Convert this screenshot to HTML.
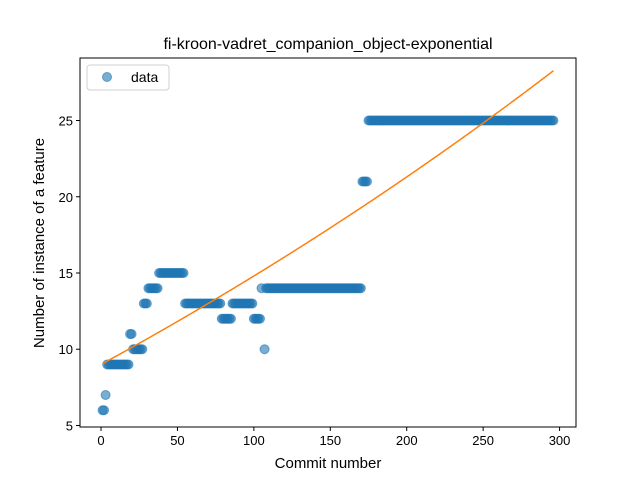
<!DOCTYPE html>
<html><head><meta charset="utf-8"><style>
body{margin:0;background:#fff;}
svg text{font-family:"Liberation Sans","DejaVu Sans",sans-serif;fill:#000;}
</style></head><body>
<svg id="chart" width="640" height="480" xmlns="http://www.w3.org/2000/svg">
<rect width="640" height="480" fill="#fff"/>
<text x="328" y="49" text-anchor="middle" font-size="16">fi-kroon-vadret_companion_object-exponential</text>
<g id="marks"></g>
<g id="axes"></g>
<text x="328" y="468" text-anchor="middle" font-size="15">Commit number</text>
<text transform="translate(44,243) rotate(-90)" text-anchor="middle" font-size="15">Number of instance of a feature</text>
<g>
<rect x="87" y="65" width="82" height="25" rx="3" fill="#fff" stroke="#ccc" opacity="0.9"/>
<circle cx="107" cy="77" r="4.5" fill="#1f77b4" fill-opacity="0.6" stroke="#1f77b4" stroke-opacity="0.6"/>
<text x="131" y="82" font-size="14">data</text>
</g>
</svg>
<script>
// runs of [startCommit, endCommit, value]
const runStarts = [1,3,4,19,21,28,31,38,55,79,86,100,105,107,108,171,175];
const runEnds   = [2,3,18,20,27,30,37,54,78,85,99,104,105,107,170,174,296];
const runValues = [6,7,9,11,10,13,14,15,13,12,13,12,14,10,14,21,25];
const xTicks = [0,50,100,150,200,250,300];
const yTicks = [5,10,15,20,25];
const fitA = 48.5, fitB = 0.00113, fitC = -39.5;

const L=80,R=576,T=58,B=427;
const xMin=-13.75,xMax=310.75,yMin=4.9,yMax=29.1;
const sx=v=>L+(v-xMin)/(xMax-xMin)*(R-L);
const sy=v=>B-(v-yMin)/(yMax-yMin)*(B-T);
const NS="http://www.w3.org/2000/svg";
const marks=document.getElementById('marks');
const axes=document.getElementById('axes');
function mk(tag,attrs,parent){const e=document.createElementNS(NS,tag);for(const k in attrs)e.setAttribute(k,attrs[k]);parent.appendChild(e);return e;}

for(let r=0;r<runStarts.length;r++){
  for(let x=runStarts[r];x<=runEnds[r];x++){
    const c=mk('circle',{cx:sx(x),cy:sy(runValues[r]),r:4.5,fill:'#1f77b4','fill-opacity':0.6,stroke:'#1f77b4','stroke-opacity':0.6},marks);
    
    
  }
}
let d='';
const x0=runStarts[0],x1=runEnds[runEnds.length-1];
for(let x=x0;x<=x1;x++){d+=(x===x0?'M':'L')+sx(x).toFixed(2)+','+sy(fitA*Math.exp(fitB*x)+fitC).toFixed(2);}
const fit=mk('path',{d:d,fill:'none',stroke:'#ff7f0e','stroke-width':1.5},marks);



const frame=mk('rect',{x:L,y:T,width:R-L,height:B-T,fill:'none',stroke:'#000','stroke-width':1},axes);


xTicks.forEach(t=>{
  mk('line',{x1:sx(t),x2:sx(t),y1:B,y2:B+4,stroke:'#000'},axes);
  const tx=mk('text',{x:sx(t),y:B+18,'text-anchor':'middle','font-size':13},axes);
  tx.textContent=t;
  
  
});
yTicks.forEach(t=>{
  mk('line',{x1:L-4,x2:L,y1:sy(t),y2:sy(t),stroke:'#000'},axes);
  const tx=mk('text',{x:L-7,y:sy(t)+5,'text-anchor':'end','font-size':13},axes);
  tx.textContent=t;
  
  
});
</script>
</body></html>
